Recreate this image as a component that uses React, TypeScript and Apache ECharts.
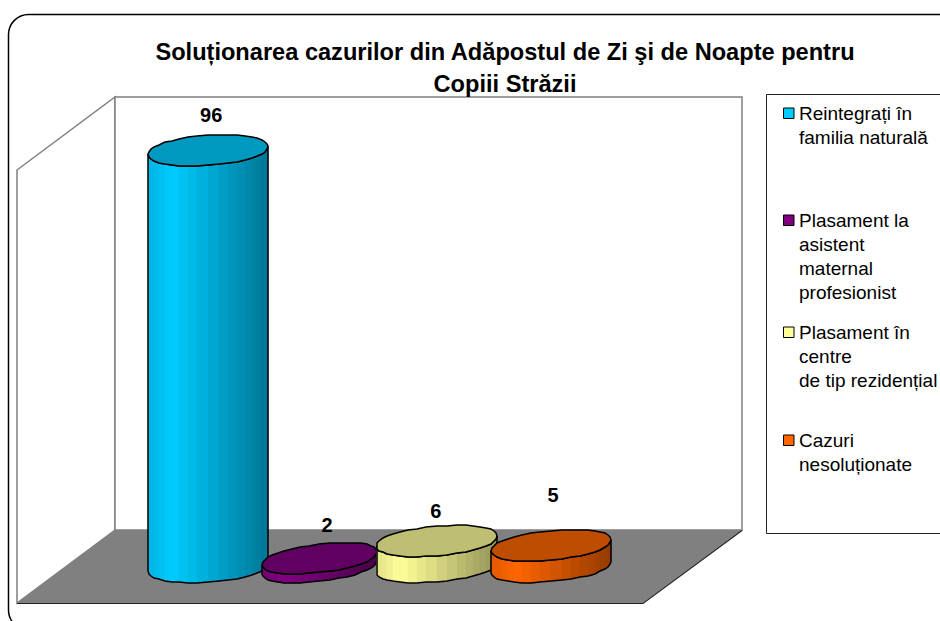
import React, { useEffect, useRef } from "react";
import * as echarts from "echarts";

const titleText = "Soluționarea cazurilor din Adăpostul de Zi şi de Noapte pentru\nCopiii Străzii";
const categories = ["Reintegrați în familia naturală", "Plasament la asistent maternal profesionist", "Plasament în centre de tip rezidențial", "Cazuri nesoluționate"];
const values = [96, 2, 6, 5];
const colors = ["#00CCFF", "#800080", "#FFFF99", "#FF6600"];
const legendLines = [
  ["Reintegrați în", "familia naturală"],
  ["Plasament la", "asistent", "maternal", "profesionist"],
  ["Plasament în", "centre", "de tip rezidențial"],
  ["Cazuri", "nesoluționate"],
];

// style constants (drawing only)
const FONT = '"Liberation Sans", Arial, sans-serif';
const radiusX = [60, 57.5, 60, 60];
const offsetX = [0, -3, 0, 0];
const tilt = [4, 6.5, 5, 5.5];
const labelDx = [3, 7.5, -1, 2];
const labelDy = [-35, -33, -30, -50];
const legendTops = [112, 219, 331, 439];

function shade(hex: string, f: number) {
  const n = parseInt(hex.slice(1), 16);
  const c = [(n >> 16) & 255, (n >> 8) & 255, n & 255].map((v) => Math.round(Math.min(255, v * f)));
  return `rgb(${c[0]},${c[1]},${c[2]})`;
}

function lightAt(u: number) {
  return u < 0.2 ? 0.88 + (u / 0.2) * 0.12 : 1 - ((u - 0.2) / 0.8) * 0.42;
}

const soft = (c: number, p = 0.93) => Math.sign(c) * Math.pow(Math.abs(c), p);

function renderBar(params: any, api: any) {
  const i = params.dataIndex;
  const v = api.value(1);
  const base = api.coord([api.value(0), 0]);
  const top = api.coord([api.value(0), v]);
  const cx = base[0] + offsetX[i];
  const a = radiusX[i];
  const k = tilt[i];
  const b = Math.sqrt(Math.max(15.5 * 15.5 - k * k, 1));
  // rounded to whole pixels: the reference's outlines are stepped the same way
  const at = (t: number, y: number) => {
    const c = soft(Math.cos(t));
    const s = soft(Math.sin(t));
    return [Math.round(cx + a * c), Math.round(y + b * s - k * c)];
  };
  const N = 40;
  const children: any[] = [];
  const frontN = N / 2;
  for (let s = 0; s < frontN; s++) {
    const t0 = Math.PI - (s / frontN) * Math.PI;
    const t1 = Math.PI - ((s + 1) / frontN) * Math.PI;
    const u = ((at(t0, 0)[0] + at(t1, 0)[0]) / 2 - (cx - a)) / (2 * a);
    const fill = shade(colors[i], lightAt(u));
    children.push({
      type: "polygon",
      shape: { points: [at(t0, top[1]), at(t1, top[1]), at(t1, base[1]), at(t0, base[1])] },
      style: { fill, stroke: fill, lineWidth: 0.5 },
    });
  }
  const front: number[][] = [];
  for (let s = 0; s <= frontN; s++) front.push(at(Math.PI - (s / frontN) * Math.PI, top[1]));
  for (let s = frontN; s >= 0; s--) front.push(at(Math.PI - (s / frontN) * Math.PI, base[1]));
  children.push({
    type: "polygon",
    shape: { points: front },
    style: { fill: "none", stroke: "#000", lineWidth: 1.5 },
  });
  const lid: number[][] = [];
  for (let s = 0; s < N; s++) lid.push(at((s / N) * Math.PI * 2, top[1]));
  children.push({
    type: "polygon",
    shape: { points: lid },
    style: { fill: shade(colors[i], 0.75), stroke: "#000", lineWidth: 1.5 },
  });
  children.push({
    type: "text",
    style: {
      text: String(v),
      x: cx + labelDx[i],
      y: top[1] + labelDy[i],
      font: `bold 20px ${FONT}`,
      fill: "#000",
      align: "center",
      verticalAlign: "middle",
    },
  });
  return { type: "group", children };
}

function legendGraphic() {
  const out: any[] = [
    { type: "rect", z: 0, shape: { x: 766.5, y: 94.5, width: 200, height: 439 }, style: { fill: "#fff", stroke: "#222", lineWidth: 1 } },
  ];
  legendLines.forEach((lines, i) => {
    out.push({
      type: "rect",
      z: 1,
      shape: { x: 783.5, y: legendTops[i] - 4, width: 10.5, height: 10.5 },
      style: { fill: colors[i], stroke: "#000", lineWidth: 1 },
    });
    lines.forEach((line, j) => {
      out.push({
        type: "text",
        z: 1,
        style: {
          text: line,
          x: 799,
          y: legendTops[i] + 1 + j * 24,
          font: `19px ${FONT}`,
          fill: "#000",
          align: "left",
          verticalAlign: "middle",
        },
      });
    });
  });
  return out;
}

export default function App() {
  const ref = useRef<HTMLDivElement>(null);
  useEffect(() => {
    document.body.style.margin = "0";
    const chart = echarts.init(ref.current!, undefined, { renderer: "svg" });
    chart.setOption({
      animation: false,
      backgroundColor: "#fff",
      title: {
        text: titleText,
        left: 500,
        top: 31,
        textAlign: "center",
        textStyle: { fontFamily: FONT, fontSize: 23.6, fontWeight: "bold", color: "#000", lineHeight: 32 },
      },
      grid: { left: 151, width: 457.2, top: 133, height: 434 },
      xAxis: { type: "category", data: categories, show: false },
      yAxis: { type: "value", min: 0, max: 100, show: false },
      graphic: [
        { type: "rect", z: -5, shape: { x: 8.5, y: 14.5, width: 1000, height: 615.5, r: 20 }, style: { fill: "#fff", stroke: "#000", lineWidth: 1.5 } },
        { type: "polygon", z: -4, shape: { points: [[17, 170], [115, 97], [115, 530], [17, 603]] }, style: { fill: "#fff", stroke: "#808080", lineWidth: 1.5 } },
        { type: "rect", z: -4, shape: { x: 115, y: 97, width: 627, height: 433 }, style: { fill: "#fff", stroke: "#808080", lineWidth: 1.5 } },
        { type: "polygon", z: -3, shape: { points: [[17, 603], [643, 603], [742, 530], [115, 530]] }, style: { fill: "#808080" } },
        { type: "polyline", z: -3, shape: { points: [[17, 603.5], [643, 603.5], [742, 530.5]] }, style: { fill: "none", stroke: "#222", lineWidth: 1.2 } },
        ...legendGraphic(),
      ],
      series: [
        {
          type: "custom",
          renderItem: renderBar,
          data: values.map((v, i) => [i, v]),
          encode: { x: 0, y: 1 },
          clip: false,
          z: 5,
        },
      ],
    });
    return () => chart.dispose();
  }, []);
  return <div ref={ref} style={{ position: "fixed", left: 0, top: 0, width: 940, height: 621 }} />;
}
